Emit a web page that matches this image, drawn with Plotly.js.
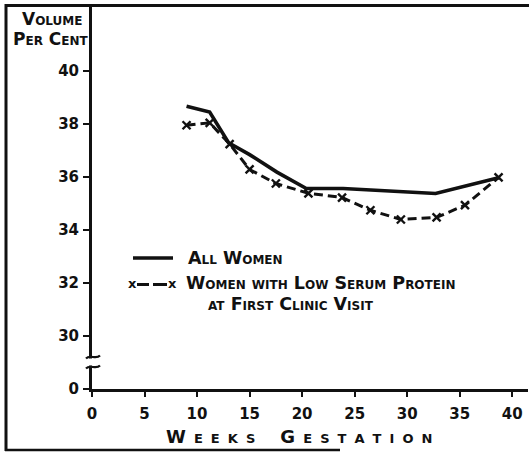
<!DOCTYPE html>
<html>
<head>
<meta charset="utf-8">
<script src="https://cdn.plot.ly/plotly-3.0.1.min.js"></script>
<style>
  html, body { margin: 0; padding: 0; background: #fff; }
  #chart { width: 529px; height: 453px; }
</style>
</head>
<body>
<div id="chart"></div>
<script>
// Packed cell volume (per cent) by weeks of gestation
const weeksAll = [9.0, 11.2, 13.0, 15.0, 17.6, 20.4, 23.9, 32.7, 38.7];
const volumeAll = [38.68, 38.46, 37.30, 36.85, 36.19, 35.57, 35.57, 35.38, 35.98];

const weeksLowProtein = [9.0, 11.2, 13.1, 15.0, 17.5, 20.6, 23.8, 26.5, 29.4, 32.8, 35.5, 38.7];
const volumeLowProtein = [37.96, 38.05, 37.25, 36.29, 35.76, 35.39, 35.23, 34.75, 34.40, 34.48, 34.94, 35.99];

// x axis ticks
const xTickVals = [0, 5, 10, 15, 20, 25, 30, 35, 40];
const xTickText = ['0', '5', '10', '15', '20', '25', '30', '35', '40'];

// y axis is broken between 0 and 30; the zero baseline sits at position 28
const yTickVals = [28, 30, 32, 34, 36, 38, 40];
const yTickText = ['0', '30', '32', '34', '36', '38', '40'];

const seriesNames = ['All Women', 'Women with Low Serum Protein', 'at First Clinic Visit'];

// plot-area geometry in pixels, used to place decorations in paper units
const W = 529, H = 453;
const M = { l: 92, r: 1, t: 5, b: 64 };
const PW = W - M.l - M.r, PH = H - M.t - M.b;
const px = v => (v - M.l) / PW;
const py = v => (H - M.b - v) / PH;

const ink = '#111';
const capsFont = size => ({ family: 'DejaVu Sans', size, color: ink, weight: 'bold', variant: 'small-caps' });

const traces = [
  {
    x: weeksAll, y: volumeAll, name: seriesNames[0],
    mode: 'lines', line: { color: ink, width: 3.6 },
    hoverinfo: 'skip'
  },
  {
    x: weeksLowProtein, y: volumeLowProtein, name: seriesNames[1],
    mode: 'lines+markers',
    line: { color: ink, width: 3, dash: '9px,5px' },
    marker: { symbol: 'x-thin', size: 8, line: { color: ink, width: 2.4 } },
    hoverinfo: 'skip'
  }
];

// squiggle marks on the broken y axis
function squiggle(yPix) {
  const x0 = px(86), x1 = px(100);
  const xm1 = px(90), xm2 = px(96);
  const y0 = py(yPix + 1.5), y1 = py(yPix - 1.5), ya = py(yPix - 3), yb = py(yPix + 3);
  return {
    type: 'path', xref: 'paper', yref: 'paper',
    path: `M ${x0} ${y0} C ${xm1} ${ya}, ${xm2} ${yb}, ${x1} ${y1}`,
    line: { color: ink, width: 2.2 }
  };
}

const shapes = [
  // outer frame (left, top, bottom)
  { type: 'line', xref: 'paper', yref: 'paper', x0: px(6), x1: px(6), y0: py(4), y1: py(451), line: { color: ink, width: 3 } },
  { type: 'line', xref: 'paper', yref: 'paper', x0: px(5), x1: px(529), y0: py(5.5), y1: py(5.5), line: { color: ink, width: 3 } },
  { type: 'line', xref: 'paper', yref: 'paper', x0: px(5), x1: px(340), y0: py(450), y1: py(450), line: { color: ink, width: 2.5 } },
  // gap in the y axis line for the scale break
  { type: 'rect', xref: 'paper', yref: 'paper', x0: px(89), x1: px(95), y0: py(365.5), y1: py(358.5), fillcolor: '#fff', line: { width: 0 } },
  squiggle(357),
  squiggle(367),
  // legend samples
  { type: 'line', xref: 'paper', yref: 'paper', x0: px(133), x1: px(173), y0: py(258), y1: py(258), line: { color: ink, width: 3.6 } },
  { type: 'line', xref: 'paper', yref: 'paper', x0: px(137), x1: px(149), y0: py(284.5), y1: py(284.5), line: { color: ink, width: 3 } },
  { type: 'line', xref: 'paper', yref: 'paper', x0: px(153), x1: px(167), y0: py(284.5), y1: py(284.5), line: { color: ink, width: 3 } }
];

const ann = (text, x, y, xanchor, font) => ({
  text, xref: 'paper', yref: 'paper', x: px(x), y: py(y),
  xanchor, yanchor: 'middle', showarrow: false, font
});

const markFont = { family: 'DejaVu Sans', size: 13, color: ink, weight: 'bold' };

// spaced-out lettering for the x axis title
const spaced = word => word.split('').join('&nbsp;&#8202;');
const xTitle = spaced('Weeks') + '&nbsp;&nbsp;&nbsp;&nbsp;' + spaced('Gestation');

const annotations = [
  ann('Volume', 52, 19, 'center', capsFont(17)),
  ann('Per Cent', 51, 39, 'center', capsFont(17)),
  ann(seriesNames[0], 186, 258, 'left', capsFont(17.5)),
  ann(seriesNames[1], 184, 283, 'left', capsFont(17.5)),
  ann(seriesNames[2], 206, 303.5, 'left', capsFont(17.5)),
  ann('x', 132, 283.5, 'center', markFont),
  ann('x', 172, 283.5, 'center', markFont),
  ann(xTitle, 299, 436, 'center', capsFont(18))
];

const tickFont = { family: 'DejaVu Sans', size: 15, color: ink, weight: 'bold' };

const layout = {
  width: W, height: H,
  margin: M,
  paper_bgcolor: '#fff', plot_bgcolor: '#fff',
  showlegend: false,
  xaxis: {
    range: [0, 41.5],
    tickvals: xTickVals, ticktext: xTickText,
    showline: true, linecolor: ink, linewidth: 3,
    ticks: 'outside', ticklen: 5, tickwidth: 2, tickcolor: ink,
    showgrid: false, zeroline: false,
    tickfont: tickFont, ticklabelstandoff: 4
  },
  yaxis: {
    range: [28, 42.5],
    tickvals: yTickVals, ticktext: yTickText,
    showline: true, linecolor: ink, linewidth: 3,
    ticks: 'outside', ticklen: 6, tickwidth: 2, tickcolor: ink,
    showgrid: false, zeroline: false,
    tickfont: tickFont, ticklabelstandoff: 1
  },
  shapes, annotations
};

Plotly.newPlot('chart', traces, layout, { displayModeBar: false, staticPlot: true });
</script>
</body>
</html>
